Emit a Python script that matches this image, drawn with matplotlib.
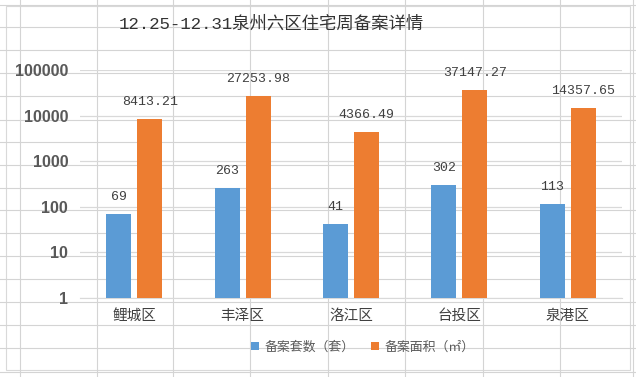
import matplotlib.pyplot as plt
import numpy as np
from matplotlib.patches import Rectangle

plt.rcParams['font.family'] = ['Noto Sans CJK SC', 'DejaVu Sans']

districts = ["鲤城区", "丰泽区", "洛江区", "台投区", "泉港区"]
units = [69, 263, 41, 302, 113]
areas = [8413.21, 27253.98, 4366.49, 37147.27, 14357.65]
series_names = ["备案套数（套）", "备案面积（㎡）"]
ytick_vals = [1, 10, 100, 1000, 10000, 100000]
title = "12.25-12.31泉州六区住宅周备案详情"

blue = "#5B9BD5"
orange = "#ED7D31"

fig = plt.figure(figsize=(6.36, 3.77), dpi=100)

# spreadsheet cell lines behind the chart
bg = fig.add_axes([0, 0, 1, 1], zorder=-5)
bg.set_xlim(0, 636)
bg.set_ylim(377, 0)
bg.axis("off")
for xv in [20, 97, 173, 250, 328, 405, 483, 560, 633]:
    bg.plot([xv, xv], [0, 377], color="#D4D4D4", lw=0.8)
for yv in [5, 27, 50, 73, 96, 120, 142, 165, 188, 210, 233, 256, 279, 302, 325, 348, 372]:
    bg.plot([0, 636], [yv, yv], color="#D4D4D4", lw=0.8)
bg.add_patch(Rectangle((6, 6), 624, 364, facecolor="white", edgecolor="#D9D9D9", lw=0.8))

ax = fig.add_axes([80 / 636, 1 - 298 / 377, 542 / 636, 228 / 377])
x = np.arange(len(districts))
w = 0.23
off = 0.143
b1 = ax.bar(x - off, units, w, color=blue, label=series_names[0], zorder=3)
b2 = ax.bar(x + off, areas, w, color=orange, label=series_names[1], zorder=3)

ax.set_yscale("log")
ax.set_ylim(1, 100000)
ax.set_xlim(-0.5, len(districts) - 0.5)
ax.set_yticks(ytick_vals)
ax.set_yticklabels([str(v) for v in ytick_vals], fontsize=11.5, fontweight="bold",
                   color="#595959", family=["Liberation Sans"])
ax.yaxis.set_minor_locator(plt.NullLocator())
ax.set_xticks(x)
ax.set_xticklabels(districts, fontsize=10.5, color="#404040")
ax.tick_params(axis="y", length=0, pad=8.5)
ax.tick_params(axis="x", length=0, pad=8)
ax.grid(axis="y", color="#D9D9D9", lw=0.9, zorder=0)
for s in ["top", "right", "left"]:
    ax.spines[s].set_visible(False)
ax.spines["bottom"].set_color("#D9D9D9")
ax.patch.set_alpha(0)

for bars, vals in [(b1, units), (b2, areas)]:
    for r, v in zip(bars, vals):
        ax.annotate(f"{v:g}" if isinstance(v, int) else f"{v:.2f}",
                    (r.get_x() + r.get_width() / 2, v), xytext=(0, 8),
                    textcoords="offset points", ha="center", va="bottom",
                    fontsize=9.5, color="#404040", family=["Liberation Mono"])

ax.legend(loc="upper center", bbox_to_anchor=(0.522, -0.135), ncol=2, frameon=False,
          fontsize=9.3, handlelength=0.6, handleheight=0.6, columnspacing=1.3,
          handletextpad=0.4, labelcolor="#595959")

fig.text(271 / 636, 1 - 24 / 377, title, ha="center", va="center",
         fontsize=12.5, color="#333333", family=["Liberation Mono", "Noto Sans CJK SC"])

fig.savefig("out.png", dpi=100)
